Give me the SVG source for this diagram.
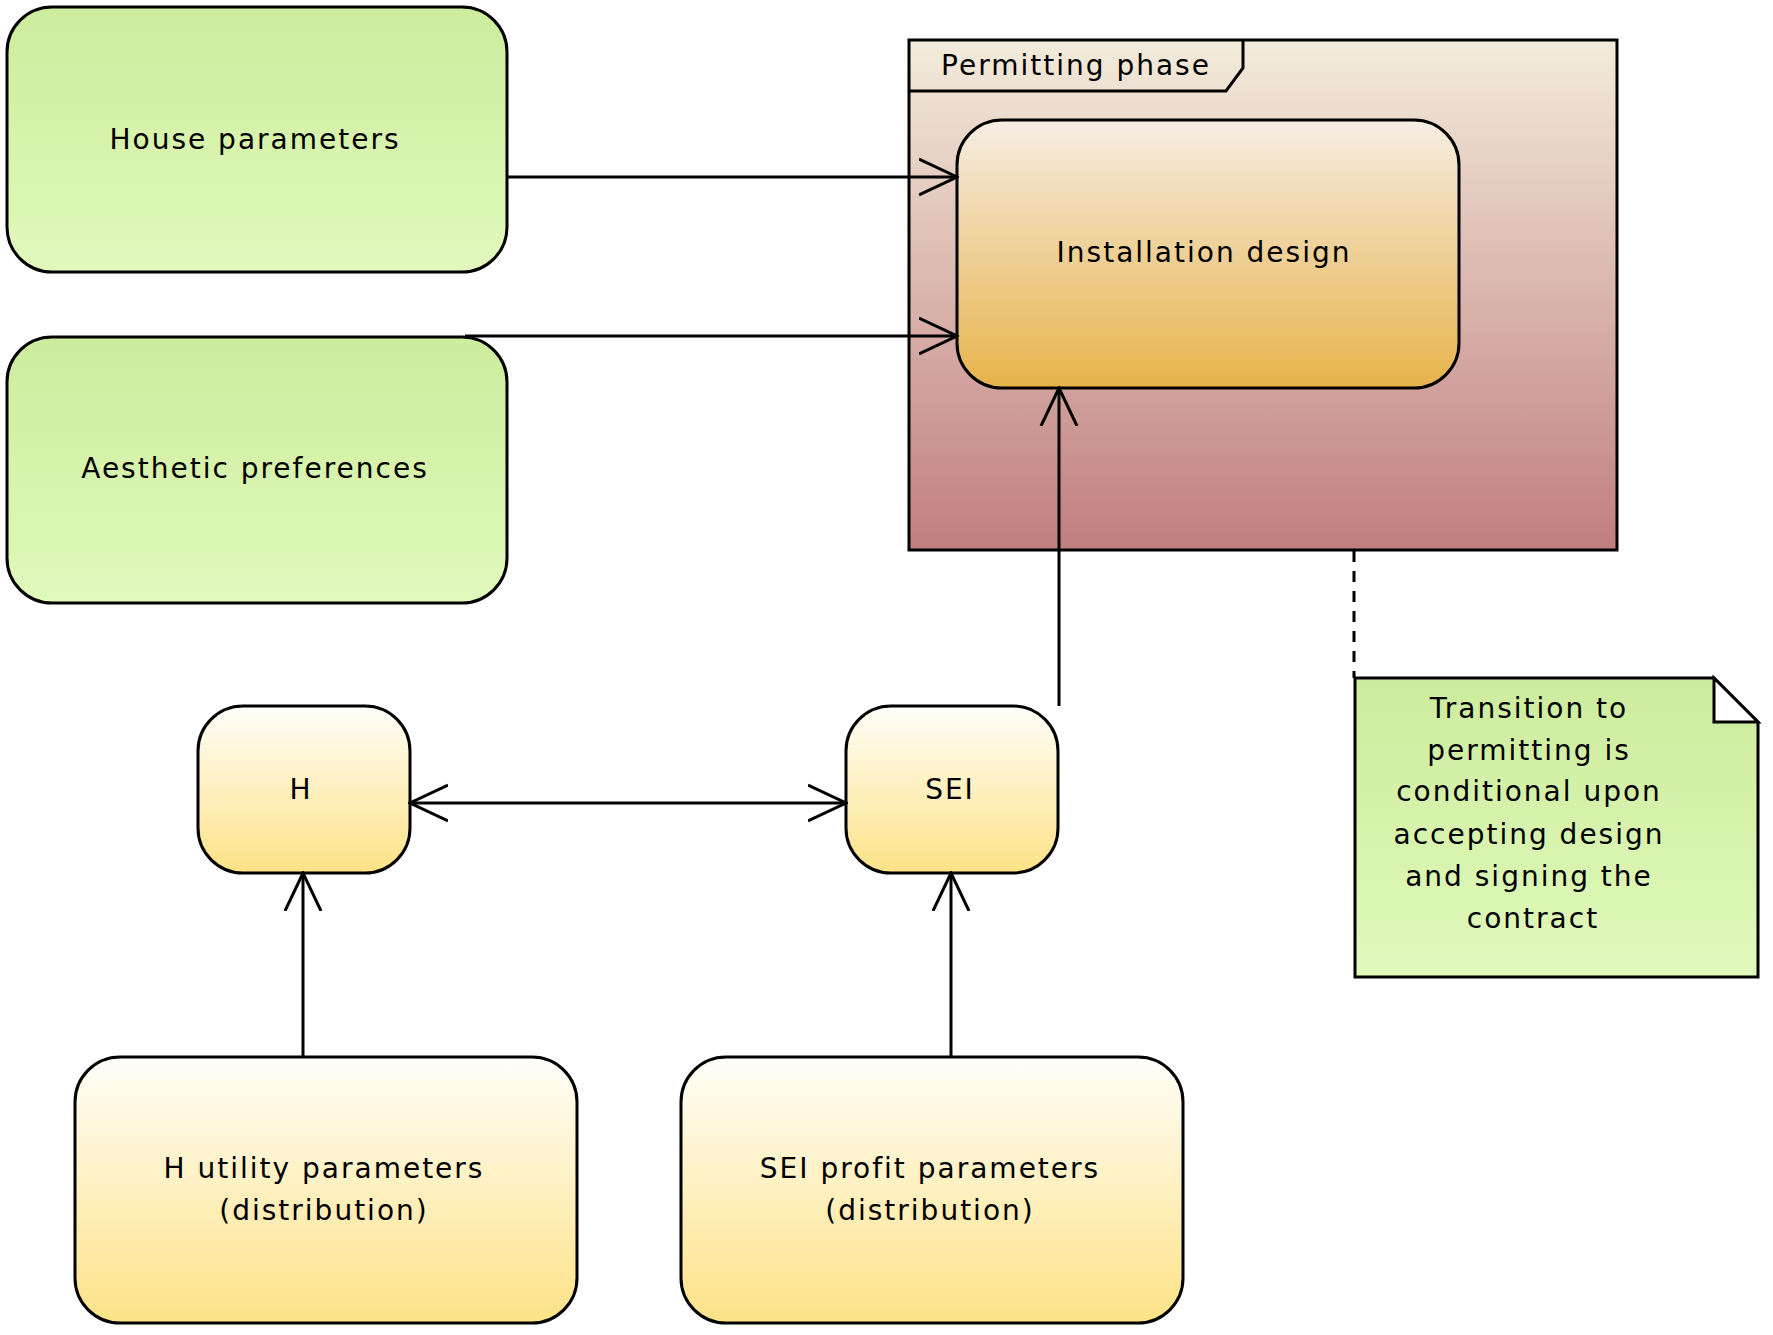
<svg xmlns="http://www.w3.org/2000/svg" width="1773" height="1335" viewBox="0 0 1773 1335">
<style>
  text { font-family: "DejaVu Sans", "Liberation Sans", sans-serif; font-size: 28px; letter-spacing: 2px; fill: #000; text-anchor: middle; }
  .box { stroke: #000; stroke-width: 3; }
  .edge { stroke: #000; stroke-width: 3; fill: none; }
</style>
<defs>
  <linearGradient id="gGreen" x1="0" y1="0" x2="0" y2="1">
    <stop offset="0" stop-color="#cdec9d"/>
    <stop offset="1" stop-color="#e1f9bb"/>
  </linearGradient>
  <linearGradient id="gYellow" x1="0" y1="0" x2="0" y2="1">
    <stop offset="0" stop-color="#fffef9"/>
    <stop offset="1" stop-color="#fde286"/>
  </linearGradient>
  <linearGradient id="gOrange" x1="0" y1="0" x2="0" y2="1">
    <stop offset="0" stop-color="#f6ede3"/>
    <stop offset="1" stop-color="#e7b34a"/>
  </linearGradient>
  <linearGradient id="gFrame" x1="0" y1="0" x2="0" y2="1">
    <stop offset="0" stop-color="#f3ecdb"/>
    <stop offset="1" stop-color="#c07e7e"/>
  </linearGradient>
  <marker id="open" viewBox="0 0 40 40" refX="38" refY="20" markerWidth="40" markerHeight="40" markerUnits="userSpaceOnUse" orient="auto-start-reverse">
    <path d="M0,2 L38,20 L0,38" fill="none" stroke="#000" stroke-width="3"/>
  </marker>
</defs>

<g id="permitting-phase">
  <rect class="box" x="909" y="40" width="708" height="510" fill="url(#gFrame)"/>
  <path class="edge" d="M909,91 L1226,91 L1243,68 L1243,40"/>
  <text x="1076" y="75">Permitting phase</text>
</g>

<g id="house-parameters">
  <rect class="box" x="7" y="7" width="500" height="265" rx="45" ry="45" fill="url(#gGreen)"/>
  <text x="255" y="149">House parameters</text>
</g>

<g id="aesthetic-preferences">
  <rect class="box" x="7" y="337" width="500" height="266" rx="45" ry="45" fill="url(#gGreen)"/>
  <text x="255" y="478">Aesthetic preferences</text>
</g>

<g id="installation-design">
  <rect class="box" x="957" y="120" width="502" height="268" rx="45" ry="45" fill="url(#gOrange)"/>
  <text x="1204" y="262">Installation design</text>
</g>

<g id="H">
  <rect class="box" x="198" y="706" width="212" height="167" rx="45" ry="45" fill="url(#gYellow)"/>
  <text x="301" y="799">H</text>
</g>

<g id="SEI">
  <rect class="box" x="846" y="706" width="212" height="167" rx="45" ry="45" fill="url(#gYellow)"/>
  <text x="950" y="799">SEI</text>
</g>

<g id="h-utility-parameters">
  <rect class="box" x="75" y="1057" width="502" height="266" rx="45" ry="45" fill="url(#gYellow)"/>
  <text x="324" y="1178">H utility parameters</text>
  <text x="324" y="1220">(distribution)</text>
</g>

<g id="sei-profit-parameters">
  <rect class="box" x="681" y="1057" width="502" height="266" rx="45" ry="45" fill="url(#gYellow)"/>
  <text x="930" y="1178">SEI profit parameters</text>
  <text x="930" y="1220">(distribution)</text>
</g>

<g id="note">
  <path class="box" d="M1355,678 L1714,678 L1758,722 L1758,977 L1355,977 Z" fill="url(#gGreen)"/>
  <path class="box" d="M1714,678 L1714,722 L1758,722 Z" fill="#fff"/>
  <text x="1529" y="718">Transition to</text>
  <text x="1529" y="760">permitting is</text>
  <text x="1529" y="801">conditional upon</text>
  <text x="1529" y="844">accepting design</text>
  <text x="1529" y="886">and signing the</text>
  <text x="1533" y="928">contract</text>
</g>

<g id="connectors">
  <line class="edge" x1="508" y1="177" x2="957" y2="177" marker-end="url(#open)"/>
  <line class="edge" x1="465" y1="336" x2="957" y2="336" marker-end="url(#open)"/>
  <line class="edge" x1="1059" y1="706" x2="1059" y2="388" marker-end="url(#open)"/>
  <line class="edge" x1="410" y1="803" x2="846" y2="803" marker-start="url(#open)" marker-end="url(#open)"/>
  <line class="edge" x1="303" y1="1056" x2="303" y2="873" marker-end="url(#open)"/>
  <line class="edge" x1="951" y1="1056" x2="951" y2="873" marker-end="url(#open)"/>
  <line class="edge" x1="1354" y1="551" x2="1354" y2="678" stroke-dasharray="11,9"/>
</g>
</svg>
